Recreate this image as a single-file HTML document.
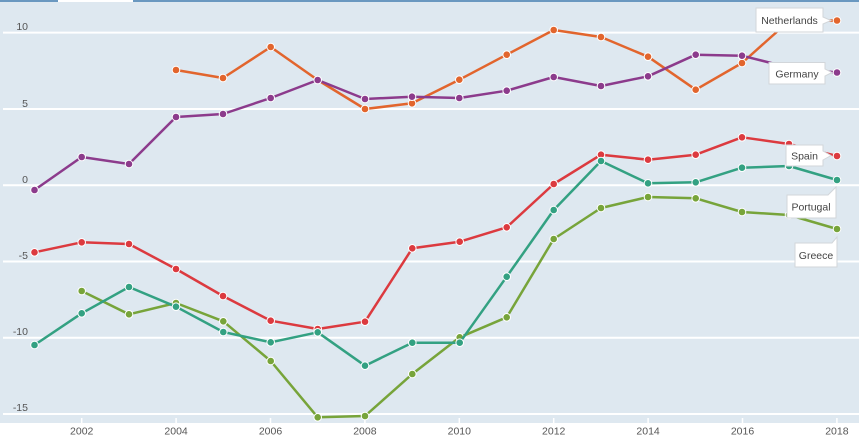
<!DOCTYPE html>
<html><head><meta charset="utf-8"><style>
html,body{margin:0;padding:0;background:#fff;}
svg{display:block;font-family:"Liberation Sans",sans-serif;}
</style></head><body>
<svg width="859" height="445" viewBox="0 0 859 445" xmlns="http://www.w3.org/2000/svg">
<rect x="0" y="0" width="859" height="445" fill="#ffffff"/>
<rect x="0" y="2" width="859" height="421" fill="#dee8f0"/>
<rect x="0" y="0" width="58" height="2" fill="#6a98c0"/>
<rect x="133" y="0" width="726" height="2" fill="#6a98c0"/>
<g stroke="#ffffff" stroke-width="2">
<line x1="3" y1="32.6" x2="859" y2="32.6"/>
<line x1="3" y1="109" x2="859" y2="109"/>
<line x1="3" y1="185.2" x2="859" y2="185.2"/>
<line x1="3" y1="261.5" x2="859" y2="261.5"/>
<line x1="3" y1="337.8" x2="859" y2="337.8"/>
<line x1="3" y1="414" x2="859" y2="414"/>
</g>
<g stroke="#ffffff" stroke-width="1.5">
<line x1="81.7" y1="418" x2="81.7" y2="423"/>
<line x1="176.1" y1="418" x2="176.1" y2="423"/>
<line x1="270.5" y1="418" x2="270.5" y2="423"/>
<line x1="364.9" y1="418" x2="364.9" y2="423"/>
<line x1="459.3" y1="418" x2="459.3" y2="423"/>
<line x1="553.7" y1="418" x2="553.7" y2="423"/>
<line x1="648.1" y1="418" x2="648.1" y2="423"/>
<line x1="742.5" y1="418" x2="742.5" y2="423"/>
<line x1="836.9" y1="418" x2="836.9" y2="423"/>
</g>
<g font-size="10.5" fill="#555" text-anchor="end">
<text x="28" y="30">10</text>
<text x="28" y="107">5</text>
<text x="28" y="183">0</text>
<text x="28" y="259">-5</text>
<text x="28" y="335">-10</text>
<text x="28" y="411">-15</text>
</g>
<g font-size="10.5" fill="#555" text-anchor="middle">
<text x="81.7" y="434.5">2002</text>
<text x="176.1" y="434.5">2004</text>
<text x="270.5" y="434.5">2006</text>
<text x="364.9" y="434.5">2008</text>
<text x="459.3" y="434.5">2010</text>
<text x="553.7" y="434.5">2012</text>
<text x="648.1" y="434.5">2014</text>
<text x="742.5" y="434.5">2016</text>
<text x="836.9" y="434.5">2018</text>
</g>

<!-- Netherlands -->
<g fill="none" stroke="#e2652d" stroke-width="2.5" stroke-linejoin="round">
<polyline points="176,70 223,78 270.7,47 317.7,80 365,109 412,103.3 459.3,79.7 506.7,54.7 553.7,30 601,37 648,56.7 695.7,89.7 742,63 789,21 837,20.5"/>
</g>
<g fill="#e2652d" stroke="#fff" stroke-width="1">
<circle cx="176" cy="70" r="3.8"/><circle cx="223" cy="78" r="3.8"/><circle cx="270.7" cy="47" r="3.8"/><circle cx="317.7" cy="80" r="3.8"/><circle cx="365" cy="109" r="3.8"/><circle cx="412" cy="103.3" r="3.8"/><circle cx="459.3" cy="79.7" r="3.8"/><circle cx="506.7" cy="54.7" r="3.8"/><circle cx="553.7" cy="30" r="3.8"/><circle cx="601" cy="37" r="3.8"/><circle cx="648" cy="56.7" r="3.8"/><circle cx="695.7" cy="89.7" r="3.8"/><circle cx="742" cy="63" r="3.8"/><circle cx="789" cy="21" r="3.8"/><circle cx="837" cy="20.5" r="3.8"/>
</g>

<!-- Germany -->
<g fill="none" stroke="#8c3b8c" stroke-width="2.5" stroke-linejoin="round">
<polyline points="34.5,190 81.7,157 129,164 176,117 223,114 270.7,98 317.7,80 365,99 412,96.7 459.3,98 506.7,90.7 553.7,77 601,86 648,76.3 695.7,54.7 742,55.7 789,67.5 837,72.5"/>
</g>
<g fill="#8c3b8c" stroke="#fff" stroke-width="1">
<circle cx="34.5" cy="190" r="3.8"/><circle cx="81.7" cy="157" r="3.8"/><circle cx="129" cy="164" r="3.8"/><circle cx="176" cy="117" r="3.8"/><circle cx="223" cy="114" r="3.8"/><circle cx="270.7" cy="98" r="3.8"/><circle cx="317.7" cy="80" r="3.8"/><circle cx="365" cy="99" r="3.8"/><circle cx="412" cy="96.7" r="3.8"/><circle cx="459.3" cy="98" r="3.8"/><circle cx="506.7" cy="90.7" r="3.8"/><circle cx="553.7" cy="77" r="3.8"/><circle cx="601" cy="86" r="3.8"/><circle cx="648" cy="76.3" r="3.8"/><circle cx="695.7" cy="54.7" r="3.8"/><circle cx="742" cy="55.7" r="3.8"/><circle cx="789" cy="67.5" r="3.8"/><circle cx="837" cy="72.5" r="3.8"/>
</g>

<!-- Spain -->
<g fill="none" stroke="#dc3a3f" stroke-width="2.5" stroke-linejoin="round">
<polyline points="34.5,252.3 81.7,242.3 129,244 176,269 223,296 270.7,320.7 317.7,329 365,321.7 412.3,248.3 459.7,241.7 506.7,227.3 553.7,184 601,154.7 648,159.7 695.7,154.7 742,137.3 789,144 837,156"/>
</g>
<g fill="#dc3a3f" stroke="#fff" stroke-width="1">
<circle cx="34.5" cy="252.3" r="3.8"/><circle cx="81.7" cy="242.3" r="3.8"/><circle cx="129" cy="244" r="3.8"/><circle cx="176" cy="269" r="3.8"/><circle cx="223" cy="296" r="3.8"/><circle cx="270.7" cy="320.7" r="3.8"/><circle cx="317.7" cy="329" r="3.8"/><circle cx="365" cy="321.7" r="3.8"/><circle cx="412.3" cy="248.3" r="3.8"/><circle cx="459.7" cy="241.7" r="3.8"/><circle cx="506.7" cy="227.3" r="3.8"/><circle cx="553.7" cy="184" r="3.8"/><circle cx="601" cy="154.7" r="3.8"/><circle cx="648" cy="159.7" r="3.8"/><circle cx="695.7" cy="154.7" r="3.8"/><circle cx="742" cy="137.3" r="3.8"/><circle cx="789" cy="144" r="3.8"/><circle cx="837" cy="156" r="3.8"/>
</g>

<!-- Greece -->
<g fill="none" stroke="#77a43a" stroke-width="2.5" stroke-linejoin="round">
<polyline points="81.7,291 129,314.3 176,303 223.3,321.3 270.7,361 317.7,417.3 365,416 412.3,374 459.7,337.3 506.7,317.3 553.7,239 601,208 648,197 695.7,198.3 742,212 789,215 837,229"/>
</g>
<g fill="#77a43a" stroke="#fff" stroke-width="1">
<circle cx="81.7" cy="291" r="3.8"/><circle cx="129" cy="314.3" r="3.8"/><circle cx="176" cy="303" r="3.8"/><circle cx="223.3" cy="321.3" r="3.8"/><circle cx="270.7" cy="361" r="3.8"/><circle cx="317.7" cy="417.3" r="3.8"/><circle cx="365" cy="416" r="3.8"/><circle cx="412.3" cy="374" r="3.8"/><circle cx="459.7" cy="337.3" r="3.8"/><circle cx="506.7" cy="317.3" r="3.8"/><circle cx="553.7" cy="239" r="3.8"/><circle cx="601" cy="208" r="3.8"/><circle cx="648" cy="197" r="3.8"/><circle cx="695.7" cy="198.3" r="3.8"/><circle cx="742" cy="212" r="3.8"/><circle cx="789" cy="215" r="3.8"/><circle cx="837" cy="229" r="3.8"/>
</g>

<!-- Portugal -->
<g fill="none" stroke="#33a182" stroke-width="2.5" stroke-linejoin="round">
<polyline points="34.5,345 81.7,313.3 129,287 176,306.7 223.3,332 270.7,342.3 317.7,332.3 365,365.7 412.3,342.7 459.7,342.7 506.7,276.7 553.7,210 601,161 648,183.3 695.7,182.3 742,167.7 789,166 837,180"/>
</g>
<g fill="#33a182" stroke="#fff" stroke-width="1">
<circle cx="34.5" cy="345" r="3.8"/><circle cx="81.7" cy="313.3" r="3.8"/><circle cx="129" cy="287" r="3.8"/><circle cx="176" cy="306.7" r="3.8"/><circle cx="223.3" cy="332" r="3.8"/><circle cx="270.7" cy="342.3" r="3.8"/><circle cx="317.7" cy="332.3" r="3.8"/><circle cx="365" cy="365.7" r="3.8"/><circle cx="412.3" cy="342.7" r="3.8"/><circle cx="459.7" cy="342.7" r="3.8"/><circle cx="506.7" cy="276.7" r="3.8"/><circle cx="553.7" cy="210" r="3.8"/><circle cx="601" cy="161" r="3.8"/><circle cx="648" cy="183.3" r="3.8"/><circle cx="695.7" cy="182.3" r="3.8"/><circle cx="742" cy="167.7" r="3.8"/><circle cx="789" cy="166" r="3.8"/><circle cx="837" cy="180" r="3.8"/>
</g>

<!-- Labels -->
<g fill="#ffffff" stroke="#d2d6da" stroke-width="1">
<path d="M756,8 H823 V17 L831,20.5 L823,24 V32 H756 Z"/>
<path d="M769,62.5 H825 V69 L832,72.5 L825,76 V84 H769 Z"/>
<path d="M786,145 H823 V151 L831,155.5 L823,160 V166 H786 Z"/>
<path d="M787,195 H828 L836,187 V218 H787 Z"/>
<path d="M795,243 H832 L837,237 V267 H795 Z"/>
</g>
<g font-size="10.5" fill="#444" text-anchor="middle">
<text x="789.5" y="24">Netherlands</text>
<text x="797" y="77.5">Germany</text>
<text x="804.5" y="159.5">Spain</text>
<text x="811" y="210.5">Portugal</text>
<text x="816" y="259">Greece</text>
</g>
</svg>
</body></html>
